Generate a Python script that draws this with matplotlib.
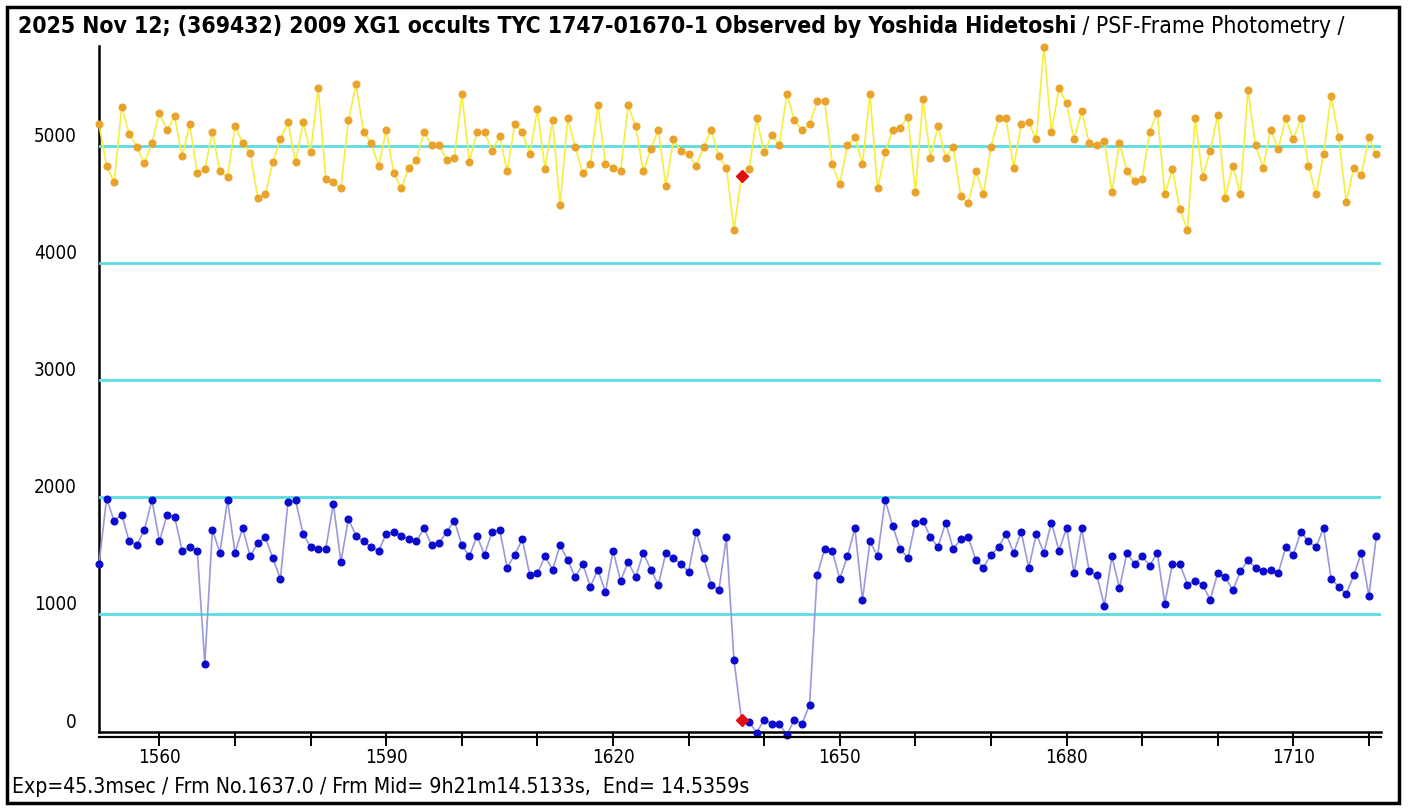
import matplotlib.pyplot as plt
import numpy as np
from matplotlib.lines import Line2D
from matplotlib.patches import Rectangle

# --- DATA ---
FRAMES = np.arange(1552, 1722)

# comparison star (upper, orange)
COMP = [
    5185, 4832, 4690, 5333, 5105, 4994, 4852, 5026, 5285, 5137,
    5253, 4912, 5185, 4769, 4801, 5122, 4784, 4738, 5171, 5026,
    4943, 4559, 4590, 4863, 5057, 5202, 4863, 5202, 4946, 5493,
    4721, 4690, 4638, 5219, 5527, 5122, 5026, 4832, 5137, 4769,
    4638, 4815, 4880, 5122, 5009, 5009, 4880, 4895, 5444, 4863,
    5122, 5122, 4960, 5088, 4784, 5185, 5122, 4929, 5316, 4801,
    5219, 4493, 5236, 4994, 4769, 4849, 5347, 4849, 4815, 4784,
    5347, 5171, 4784, 4977, 5137, 4655, 5057, 4960, 4929, 4832,
    4994, 5140, 4912, 4815, 4283, 4747, 4801, 5236, 4946, 5091,
    5009, 5444, 5219, 5137, 5188, 5381, 5381, 4849, 4673, 5009,
    5074, 4849, 5444, 4638, 4946, 5140, 5157, 5251, 4607, 5399,
    4898, 5171, 4898, 4994, 4576, 4510, 4784, 4590, 4994, 5236,
    5236, 4815, 5188, 5202, 5057, 5848, 5122, 5493, 5364, 5057,
    5299, 5026, 5009, 5043, 4607, 5026, 4784, 4704, 4721, 5122,
    5285, 4590, 4801, 4462, 4283, 5236, 4735, 4960, 5268, 4559,
    4832, 4590, 5478, 5009, 4815, 5140, 4977, 5236, 5057, 5236,
    4832, 4590, 4929, 5430, 5074, 4525, 4815, 4752, 5074, 4929,
]

# target star (lower, blue)
TARGET = [
    1430, 1990, 1800, 1853, 1623, 1592, 1722, 1977, 1623, 1853,
    1836, 1544, 1575, 1544, 580, 1722, 1527, 1977, 1527, 1737,
    1496, 1609, 1657, 1479, 1303, 1960, 1977, 1688, 1575, 1561,
    1561, 1946, 1448, 1816, 1671, 1623, 1575, 1544, 1688, 1705,
    1671, 1640, 1623, 1737, 1592, 1609, 1705, 1802, 1592, 1496,
    1671, 1510, 1705, 1722, 1399, 1510, 1640, 1334, 1351, 1496,
    1382, 1592, 1465, 1317, 1430, 1238, 1382, 1190, 1544, 1286,
    1448, 1317, 1527, 1382, 1255, 1527, 1479, 1430, 1365, 1705,
    1479, 1255, 1207, 1657, 612, 102, 85, -11, 102, 65,
    65, -28, 102, 65, 227, 1334, 1561, 1544, 1303, 1496,
    1737, 1125, 1623, 1496, 1977, 1754, 1561, 1479, 1785, 1802,
    1657, 1575, 1785, 1561, 1640, 1657, 1465, 1399, 1510, 1575,
    1688, 1527, 1705, 1399, 1688, 1527, 1785, 1544, 1737, 1351,
    1737, 1368, 1334, 1076, 1496, 1224, 1527, 1430, 1496, 1416,
    1527, 1093, 1430, 1430, 1255, 1286, 1255, 1125, 1351, 1320,
    1207, 1368, 1465, 1399, 1368, 1382, 1351, 1575, 1510, 1705,
    1623, 1575, 1737, 1303, 1238, 1176, 1334, 1527, 1159, 1671,
]

MARK_FRAME = 1637
Y_TICKS = [0, 1000, 2000, 3000, 4000, 5000]
X_MAJOR = [1560, 1590, 1620, 1650, 1680, 1710]

TITLE_BOLD = "2025 Nov 12; (369432) 2009 XG1 occults TYC 1747-01670-1 Observed by Yoshida Hidetoshi"
TITLE_REST = " / PSF-Frame Photometry /"
FOOTER = "Exp=45.3msec / Frm No.1637.0 / Frm Mid= 9h21m14.5133s,  End= 14.5359s"

FONT = ['DejaVu Sans']
STRETCH = 'condensed'
W, H = 1408, 809


def px(x, y):
    # pixel position -> figure fraction
    return x / W, 1 - y / H


fig = plt.figure(figsize=(W / 100, H / 100), dpi=100)
fig.patch.set_facecolor('white')

# axes box: left axis at x=99, bottom (value 0) at y=731.5
x0, y0 = px(99, 731.5)
x1, y1 = px(1381, 46)
ax = fig.add_axes([x0, y0, x1 - x0, y1 - y0])
ax.set_xlim(1552.0, 1721.6)
ax.set_ylim(0, 5855)

# cyan reference lines
for v in Y_TICKS[1:]:
    ax.axhline(v, color='#5ADCE0', linewidth=2.0, zorder=1)

frames = FRAMES
comp = np.array(COMP)
target = np.array(TARGET)
i = int(np.where(frames == MARK_FRAME)[0][0])

ax.plot(frames, comp, color='#F6EE3C', linewidth=1.2, zorder=2, clip_on=False)
ax.plot(frames, comp, linestyle='none', marker='o', markersize=4.8,
        color='#E9A22A', zorder=3, clip_on=False)
ax.plot(frames, target, color='#9A9ADA', linewidth=1.2, zorder=2, clip_on=False)
ax.plot(frames, target, linestyle='none', marker='o', markersize=4.8,
        color='#0A0ACF', zorder=3, clip_on=False)

# highlighted frame
ax.plot([frames[i]], [comp[i]], linestyle='none', marker='D', markersize=6,
        color='#E01010', zorder=4)
ax.plot([frames[i]], [target[i]], linestyle='none', marker='D', markersize=6,
        color='#E01010', zorder=4, clip_on=False)

# axes styling
for s in ['top', 'right']:
    ax.spines[s].set_visible(False)
ax.spines['left'].set_linewidth(1.8)
ax.spines['bottom'].set_linewidth(1.8)
ax.spines['left'].set_zorder(0.5)

ax.set_yticks(Y_TICKS)
ax.set_yticklabels([str(v) for v in Y_TICKS], family=FONT, stretch=STRETCH,
                   fontsize=13.5)
ax.tick_params(axis='y', length=0, pad=16)
for lab in ax.get_yticklabels():
    lab.set_verticalalignment('bottom')

ax.set_xticks(X_MAJOR)
ax.set_xticks(np.arange(1560, 1721, 10), minor=True)
ax.set_xticklabels([str(v) for v in X_MAJOR], family=FONT, stretch=STRETCH,
                   fontsize=13.5)
ax.tick_params(axis='x', which='both', direction='out', length=10, width=1.4, pad=2)

# second bottom line
xa, ya = px(99, 737)
xb, _ = px(1381, 737)
fig.add_artist(Line2D([xa, xb], [ya, ya], color='black', linewidth=1.6))

# title and footer
tx, ty = px(18, 27)
t = fig.text(tx, ty, TITLE_BOLD, family=FONT, stretch=STRETCH, fontsize=16.5,
             fontweight='bold', va='center', ha='left')
fig.canvas.draw()
bb = t.get_window_extent()
# shrink to the reference width if needed
scale = min(1.0, (1085 - 18) / bb.width)
t.set_fontsize(16.5 * scale)
fig.canvas.draw()
bb = t.get_window_extent()
fig.text(bb.x1 / W, ty, TITLE_REST, family=FONT, stretch=STRETCH,
         fontsize=16.5 * scale, va='center', ha='left')

fx, fy = px(12, 787)
f = fig.text(fx, fy, FOOTER, family=FONT, stretch=STRETCH, fontsize=15.2,
             va='center', ha='left')

# outer frame
rx, ry = px(7, 803)
rw = (1399 - 7) / W
rh = (803 - 7) / H
fig.add_artist(Rectangle((rx, ry), rw, rh, transform=fig.transFigure,
                         fill=False, edgecolor='black', linewidth=2.5))

fig.savefig('out.png', dpi=100)
